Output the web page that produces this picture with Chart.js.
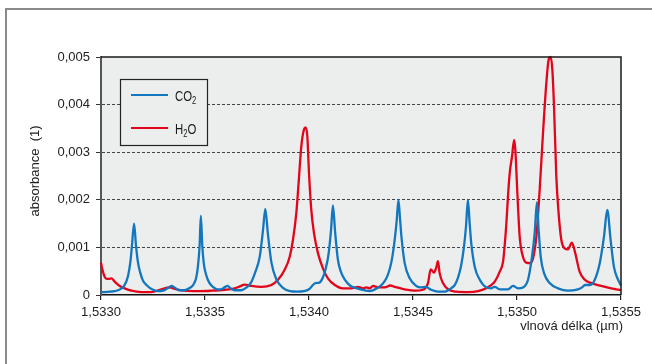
<!DOCTYPE html>
<html>
<head>
<meta charset="utf-8">
<script src="https://cdn.jsdelivr.net/npm/chart.js@4.4.0/dist/chart.umd.min.js"></script>
<style>
  html, body { margin: 0; padding: 0; background: #fff; }
  #wrap { position: relative; width: 652px; height: 364px; overflow: hidden; }
  #frame { position: absolute; left: 5px; top: 8px; width: 700px; height: 400px;
           border-left: 2px solid #8a8a8a; border-top: 2px solid #8a8a8a; }
  canvas { position: absolute; left: 0; top: 0; }
</style>
</head>
<body>
<div id="wrap">
  <div id="frame"></div>
  <canvas id="myChart" width="652" height="364"></canvas>
</div>
<script>
// wavelength in um, absorbance (1)
const co2X = [1.533000, 1.533043, 1.533082, 1.533111, 1.533130, 1.533142, 1.533149, 1.533159, 1.533168, 1.533178,
  1.533188, 1.533202, 1.533221, 1.533245, 1.533274, 1.533298, 1.533320, 1.533339, 1.533356, 1.533375,
  1.533399, 1.533423, 1.533442, 1.533457, 1.533466, 1.533474, 1.533480, 1.533487, 1.533494, 1.533505,
  1.533519, 1.533538, 1.533558, 1.533577, 1.533594, 1.533608, 1.533623, 1.533642, 1.533673, 1.533700,
  1.533721, 1.533740, 1.533763, 1.533779, 1.533790, 1.533802, 1.533819, 1.533843, 1.533875, 1.533909,
  1.533942, 1.533976, 1.534000, 1.534019, 1.534031, 1.534050, 1.534065, 1.534079, 1.534094, 1.534106,
  1.534115, 1.534126, 1.534139, 1.534154, 1.534173, 1.534197, 1.534231, 1.534264, 1.534293, 1.534327,
  1.534351, 1.534372, 1.534387, 1.534399, 1.534412, 1.534421, 1.534430, 1.534438, 1.534445, 1.534460,
  1.534484, 1.534516, 1.534538, 1.534562, 1.534587, 1.534620, 1.534654, 1.534683, 1.534702, 1.534716,
  1.534731, 1.534745, 1.534755, 1.534764, 1.534772, 1.534780, 1.534797, 1.534821, 1.534852, 1.534875,
  1.534893, 1.534917, 1.534957, 1.534981, 1.535005, 1.535029, 1.535053, 1.535072, 1.535085, 1.535096,
  1.535104, 1.535114, 1.535130, 1.535157, 1.535197, 1.535245, 1.535293, 1.535313, 1.535327, 1.535351,
  1.535374, 1.535398, 1.535418, 1.535434, 1.535450, 1.535466, 1.535486, 1.535500];
const co2Y = [0.00006, 0.00007, 0.0001, 0.00019, 0.0004, 0.00072, 0.00105, 0.0015, 0.00105, 0.00068,
  0.00048, 0.0003, 0.0002, 0.00012, 0.00008, 0.00009, 0.00014, 0.00019, 0.00015, 0.0001,
  0.0001, 0.00014, 0.0002, 0.00035, 0.0006, 0.00103, 0.00166, 0.00103, 0.00067, 0.00043,
  0.00027, 0.00017, 0.00012, 0.00012, 0.00016, 0.00019, 0.00014, 0.0001, 0.0001, 0.00016,
  0.00026, 0.00046, 0.0008, 0.00137, 0.00181, 0.0013, 0.00069, 0.00033, 0.00015, 0.00008,
  0.00007, 0.00008, 0.00012, 0.00021, 0.00025, 0.00026, 0.00035, 0.00053, 0.00086, 0.00137,
  0.00188, 0.0013, 0.00074, 0.00048, 0.00032, 0.0002, 0.00014, 0.0001, 0.00008, 0.00014,
  0.00022, 0.00035, 0.00053, 0.00076, 0.00116, 0.00153, 0.002, 0.00158, 0.0012, 0.00067,
  0.00035, 0.00019, 0.00016, 0.00017, 0.00011, 0.00007, 0.00007, 0.00014, 0.00022, 0.00036,
  0.00061, 0.00101, 0.00145, 0.002, 0.00153, 0.00109, 0.00059, 0.00032, 0.00016, 0.00014,
  0.00017, 0.00012, 0.00012, 0.00019, 0.00014, 0.00016, 0.00032, 0.0008, 0.0013, 0.00195,
  0.00137, 0.0008, 0.00046, 0.00025, 0.00014, 0.00009, 0.00012, 0.00016, 0.00021, 0.00021,
  0.00032, 0.00067, 0.00122, 0.00179, 0.00116, 0.00059, 0.00032, 0.0002];

const h2oX = [1.533000, 1.533007, 1.533018, 1.533030, 1.533038, 1.533050, 1.533066, 1.533090, 1.533114, 1.533146,
  1.533194, 1.533242, 1.533290, 1.533330, 1.533354, 1.533402, 1.533466, 1.533530, 1.533595, 1.533643,
  1.533668, 1.533691, 1.533723, 1.533771, 1.533819, 1.533851, 1.533883, 1.533907, 1.533923, 1.533939,
  1.533950, 1.533963, 1.533976, 1.533984, 1.533992, 1.534000, 1.534011, 1.534024, 1.534043, 1.534067,
  1.534091, 1.534124, 1.534163, 1.534203, 1.534236, 1.534260, 1.534276, 1.534292, 1.534308, 1.534332,
  1.534364, 1.534391, 1.534412, 1.534460, 1.534508, 1.534548, 1.534572, 1.534585, 1.534601, 1.534612,
  1.534620, 1.534628, 1.534644, 1.534668, 1.534708, 1.534764, 1.534813, 1.534852, 1.534870, 1.534893,
  1.534917, 1.534933, 1.534941, 1.534949, 1.534957, 1.534965, 1.534976, 1.534986, 1.534992, 1.535001,
  1.535013, 1.535029, 1.535045, 1.535061, 1.535077, 1.535093, 1.535109, 1.535125, 1.535141, 1.535152,
  1.535162, 1.535170, 1.535178, 1.535189, 1.535200, 1.535213, 1.535229, 1.535245, 1.535264, 1.535280,
  1.535301, 1.535326, 1.535357, 1.535405, 1.535453, 1.535500];
const h2oY = [0.00068, 0.00053, 0.00038, 0.00034, 0.00034, 0.00035, 0.00028, 0.00019, 0.00014, 0.00009,
  0.00006, 0.00006, 0.00012, 0.00016, 0.00013, 0.00009, 0.00008, 0.00009, 0.00011, 0.00014,
  0.00018, 0.00022, 0.00019, 0.00017, 0.00021, 0.00032, 0.00053, 0.0008, 0.00116, 0.00172,
  0.00235, 0.00312, 0.00348, 0.00352, 0.00333, 0.00256, 0.00179, 0.0013, 0.00088, 0.00056,
  0.00035, 0.00021, 0.00014, 0.00014, 0.00017, 0.00014, 0.00016, 0.00014, 0.00019, 0.00016,
  0.00016, 0.0002, 0.00017, 0.00012, 0.00009, 0.00011, 0.00025, 0.00054, 0.00047, 0.00058,
  0.00071, 0.00046, 0.00025, 0.00012, 0.00007, 0.00006, 0.00008, 0.00014, 0.00019, 0.00028,
  0.00049, 0.0007, 0.00105, 0.00151, 0.0021, 0.00256, 0.00291, 0.00326, 0.00305, 0.00221,
  0.00122, 0.0008, 0.00068, 0.00067, 0.00077, 0.00122, 0.00221, 0.0034, 0.00445, 0.00494,
  0.005, 0.00473, 0.00396, 0.00249, 0.00172, 0.00116, 0.00098, 0.00096, 0.0011, 0.00088,
  0.00049, 0.00032, 0.00025, 0.00019, 0.00014, 0.0001];

const xTicks = [1.5330, 1.5335, 1.5340, 1.5345, 1.5350, 1.5355];
const yTicks = [0, 0.001, 0.002, 0.003, 0.004, 0.005];
const seriesNames = ['CO2', 'H2O'];

const BLUE = '#1277be';
const RED = '#e3051b';
const PLOT_BG = '#eceeed';
const FONT = "'Liberation Sans', Arial, sans-serif";

// digits drawn as subscripts (CO2, H2O), text squeezed a bit like the condensed original
function drawChem(ctx, text, x, y, size) {
  ctx.save();
  ctx.translate(x, y);
  ctx.scale(0.76, 1);
  let cx = 0;
  for (const ch of text) {
    const sub = /[0-9]/.test(ch);
    ctx.font = (sub ? 10 : size) + 'px ' + FONT;
    ctx.fillText(ch, cx, sub ? 3 : 0);
    cx += ctx.measureText(ch).width;
  }
  ctx.restore();
}

const decor = {
  id: 'decor',
  beforeDraw(chart) {
    const {ctx, chartArea: a} = chart;
    ctx.save();
    ctx.fillStyle = PLOT_BG;
    ctx.fillRect(a.left, a.top, a.right - a.left, a.bottom - a.top);
    ctx.restore();
  },
  afterDatasetsDraw(chart) {
    const {ctx, chartArea: a} = chart;
    ctx.save();
    // top + right frame of the plot
    ctx.strokeStyle = '#1a1a1a';
    ctx.lineWidth = 1.5;
    ctx.beginPath();
    ctx.moveTo(a.left, a.top);
    ctx.lineTo(a.right, a.top);
    ctx.lineTo(a.right, a.bottom);
    ctx.stroke();

    // legend box
    const lx = a.left + 19, ly = a.top + 22;
    ctx.fillStyle = PLOT_BG;
    ctx.fillRect(lx, ly, 87, 66);
    ctx.strokeStyle = '#222';
    ctx.lineWidth = 1.2;
    ctx.strokeRect(lx + 0.5, ly + 0.5, 87, 66);
    const cols = [BLUE, RED];
    seriesNames.forEach((name, i) => {
      const yy = ly + 16 + i * 33;
      ctx.strokeStyle = cols[i];
      ctx.lineWidth = 2.2;
      ctx.beginPath();
      ctx.moveTo(lx + 11, yy);
      ctx.lineTo(lx + 48, yy);
      ctx.stroke();
      ctx.fillStyle = '#1a1a1a';
      ctx.textBaseline = 'alphabetic';
      ctx.textAlign = 'left';
      drawChem(ctx, name, lx + 55, yy + 6, 15);
    });
    ctx.restore();
  },
  afterDraw(chart) {
    const {ctx, chartArea: a} = chart;
    ctx.save();
    ctx.fillStyle = '#222';
    ctx.font = '13px ' + FONT;
    ctx.textBaseline = 'middle';
    ctx.textAlign = 'right';
    ctx.fillText('vlnová délka (µm)', a.right + 2, 326);
    ctx.translate(35.5, 171);
    ctx.rotate(-Math.PI / 2);
    ctx.textAlign = 'center';
    ctx.fillText('absorbance  (1)', 0, 0);
    ctx.restore();
  }
};

const ctx = document.getElementById('myChart').getContext('2d');
const myChart = new Chart(ctx, {
  type: 'line',
  data: {
    datasets: [{
      label: seriesNames[0],
      data: co2X.map((x, i) => ({x: x, y: co2Y[i]})),
      borderColor: BLUE,
      borderWidth: 2.3,
      pointRadius: 0,
      cubicInterpolationMode: 'monotone',
      clip: 4
    }, {
      label: seriesNames[1],
      data: h2oX.map((x, i) => ({x: x, y: h2oY[i]})),
      borderColor: RED,
      borderWidth: 2.3,
      pointRadius: 0,
      cubicInterpolationMode: 'monotone',
      clip: 4
    }]
  },
  options: {
    responsive: false,
    animation: false,
    layout: {padding: {top: 57, right: 31, bottom: 0, left: 0}},
    plugins: {legend: {display: false}, tooltip: {enabled: false}},
    scales: {
      x: {
        type: 'linear',
        min: 1.533,
        max: 1.5355,
        afterBuildTicks: s => { s.ticks = xTicks.map(v => ({value: v})); },
        afterFit: s => { s.height = 69; },
        ticks: {
          callback: v => v.toFixed(4).replace('.', ','),
          color: '#222',
          font: {family: FONT, size: 13},
          padding: 5,
          maxRotation: 0,
          autoSkip: false
        },
        grid: {drawOnChartArea: false, tickLength: 5, color: '#222', lineWidth: 1.2},
        border: {color: '#111', width: 1.5}
      },
      y: {
        min: 0,
        max: 0.005,
        afterBuildTicks: s => { s.ticks = yTicks.map(v => ({value: v})); },
        afterFit: s => { s.width = 101; },
        ticks: {
          callback: v => v === 0 ? '0' : v.toFixed(3).replace('.', ','),
          color: '#222',
          font: {family: FONT, size: 13},
          padding: 6
        },
        grid: {
          color: c => (c.index === 0 || c.index === yTicks.length - 1) ? 'rgba(0,0,0,0)' : '#444',
          tickColor: '#333',
          tickLength: 5,
          tickBorderDash: [],
          lineWidth: 1
        },
        border: {color: '#555', width: 2, dash: [3, 2]}
      }
    }
  },
  plugins: [decor]
});
</script>
</body>
</html>
